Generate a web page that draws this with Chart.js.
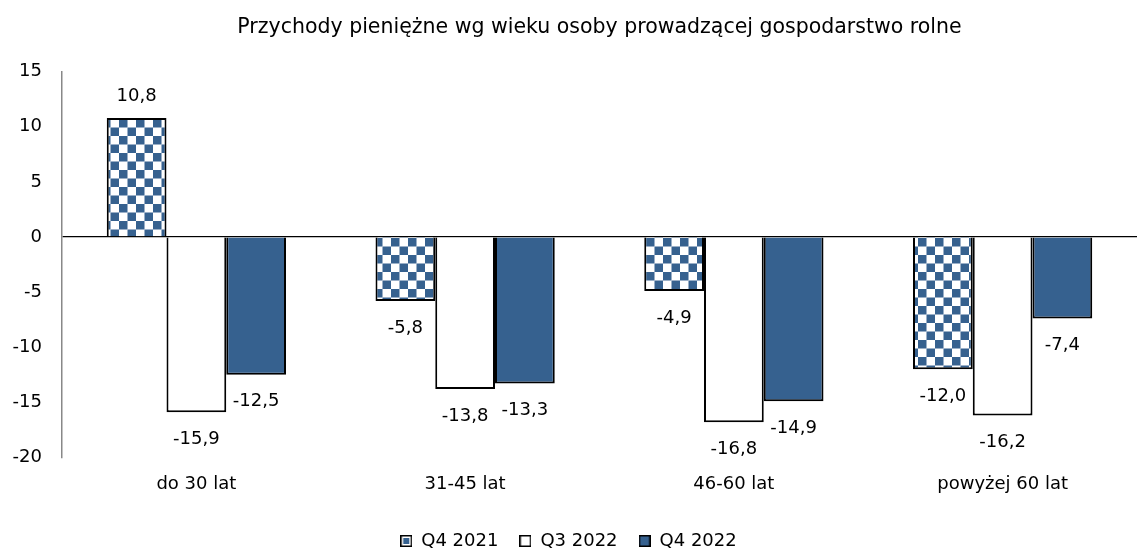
<!DOCTYPE html>
<html><head><meta charset="utf-8">
<script src="https://cdn.jsdelivr.net/npm/chart.js@4/dist/chart.umd.min.js"></script>
<style>html,body{margin:0;padding:0;background:#fff}#w{width:1137px;height:553px}</style>
</head><body><div id="w"><canvas id="c" width="1137" height="553"></canvas></div>
<script>
const categories = ["do 30 lat", "31-45 lat", "46-60 lat", "powyżej 60 lat"];
const q4_2021 = [10.8, -5.8, -4.9, -12.0];
const q3_2022 = [-15.9, -13.8, -16.8, -16.2];
const q4_2022 = [-12.5, -13.3, -14.9, -7.4];
const seriesNames = ["Q4 2021", "Q3 2022", "Q4 2022"];
const titleText = "Przychody pieniężne wg wieku osoby prowadzącej gospodarstwo rolne";
const BLUE = "#36618f";
const FONT = "'DejaVu Sans'";

function checker() {
  const c = document.createElement('canvas');
  c.width = 17; c.height = 17;
  const x = c.getContext('2d');
  x.fillStyle = '#fff'; x.fillRect(0,0,17,17);
  x.fillStyle = BLUE;
  x.fillRect(0,0,8.5,8.5); x.fillRect(8.5,8.5,8.5,8.5);
  return document.getElementById('c').getContext('2d').createPattern(c,'repeat');
}

function legendIcon(inner, ring) {
  const c = document.createElement('canvas');
  c.width = 12; c.height = 12;
  const x = c.getContext('2d');
  x.fillStyle = '#000'; x.fillRect(0,0,12,12);
  if (ring) { x.fillStyle = '#fff'; x.fillRect(1.5,1.5,9,9); x.fillStyle = inner; x.fillRect(3,3,6,6); }
  else { x.fillStyle = inner; x.fillRect(1.5,1.5,9,9); }
  return c;
}

const labelPlugin = {
  id: 'vlabels',
  afterDatasetsDraw(chart) {
    const ctx = chart.ctx;
    ctx.save();
    ctx.font = '18px ' + FONT;
    ctx.fillStyle = '#000';
    ctx.textAlign = 'center';
    ctx.textBaseline = 'middle';
    chart.data.datasets.forEach((ds, i) => {
      chart.getDatasetMeta(i).data.forEach((bar, j) => {
        const v = ds.data[j];
        const t = v.toFixed(1).replace('.', ',');
        const y = v >= 0 ? bar.y - 22 : bar.y + 27;
        ctx.fillText(t, bar.x, y);
      });
    });
    const a = chart.chartArea;
    ctx.font = '20.5px ' + FONT;
    ctx.fillText(titleText, (a.left + a.right) / 2, 28);
    ctx.restore();
  }
};

const pat = checker();
const icons = [legendIcon(BLUE, true), legendIcon('#fff', false), legendIcon(BLUE, false)];
new Chart(document.getElementById('c'), {
  type: 'bar',
  data: {
    labels: categories,
    datasets: [
      {label: seriesNames[0], data: q4_2021, backgroundColor: pat, borderColor: '#000', borderWidth: 2},
      {label: seriesNames[1], data: q3_2022, backgroundColor: '#fff', borderColor: '#000', borderWidth: 2},
      {label: seriesNames[2], data: q4_2022, backgroundColor: BLUE, borderColor: '#000', borderWidth: 2}
    ]
  },
  options: {
    responsive: false,
    animation: false,
    layout: {padding: {left: 0, right: 0, top: 2, bottom: -7}},
    datasets: {bar: {categoryPercentage: 0.667, barPercentage: 1}},
    plugins: {
      title: {display: true, text: titleText, color: 'rgba(0,0,0,0)', font: {family: FONT, size: 20.5, weight: 'normal'}, padding: {top: 14, bottom: 31}},
      legend: {
        position: 'bottom',
        labels: {color: '#000', font: {family: FONT, size: 18}, boxWidth: 12, boxHeight: 12, padding: 21, usePointStyle: true,
          generateLabels(chart) {
            return chart.data.datasets.map((d, i) => ({text: d.label, pointStyle: icons[i], fillStyle: BLUE, strokeStyle: '#000', lineWidth: 0, datasetIndex: i}));
          }
        }
      },
      tooltip: {enabled: false}
    },
    scales: {
      x: {
        grid: {display: false},
        border: {display: false},
        afterFit: s => { s.height += 8; },
        ticks: {color: '#000', font: {family: FONT, size: 18}, padding: 8}
      },
      y: {
        min: -20, max: 15,
        afterFit: s => { s.width = 62; },
        ticks: {stepSize: 5, color: '#000', font: {family: FONT, size: 18}, padding: 20},
        border: {color: '#888', width: 1.5},
        grid: {drawTicks: false, color: ctx => ctx.tick && ctx.tick.value === 0 ? '#000' : 'rgba(0,0,0,0)', lineWidth: 1.2}
      }
    }
  },
  plugins: [labelPlugin]
});
</script></body></html>
